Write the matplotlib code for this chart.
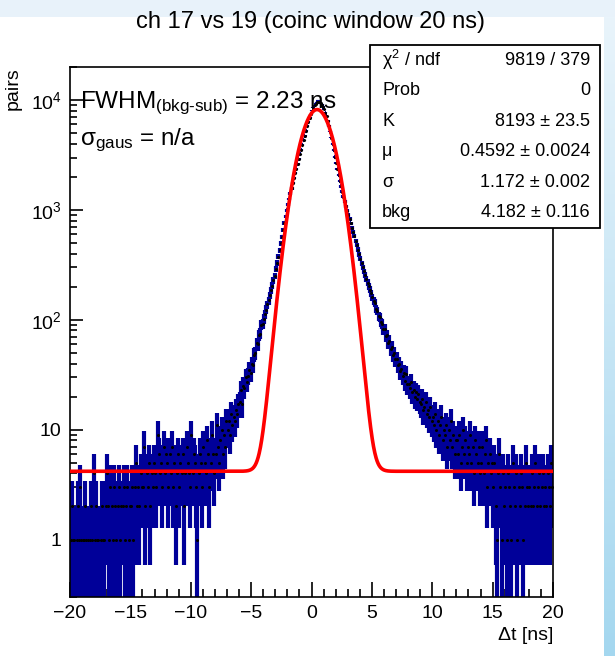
import numpy as np
import matplotlib
matplotlib.use('Agg')
import matplotlib.pyplot as plt
from matplotlib.patches import Rectangle
from matplotlib.colors import LinearSegmentedColormap
from matplotlib.ticker import FixedLocator, FixedFormatter, LogLocator, NullFormatter, MultipleLocator

plt.rcParams['font.family'] = ['Liberation Sans', 'DejaVu Sans']
plt.rcParams['mathtext.fontset'] = 'custom'
plt.rcParams['mathtext.rm'] = 'Liberation Sans'
plt.rcParams['mathtext.it'] = 'Liberation Sans:italic'
plt.rcParams['mathtext.bf'] = 'Liberation Sans:bold'

# Histograma: 400 bins de 0.1 ns entre -20 e 20 ns (contagens)
x_min, x_max = -20.0, 20.0
contagens = [
    1, 2, 1, 1, 0, 1, 2, 1, 3, 1,            # -20
    1, 1, 2, 1, 1, 0, 1, 2, 1, 4,            # -19
    1, 2, 1, 1, 0, 1, 2, 1, 1, 2,            # -18
    4, 2, 1, 3, 2, 1, 3, 2, 1, 2,            # -17
    3, 1, 2, 2, 3, 1, 2, 3, 1, 2,            # -16
    2, 3, 1, 3, 5, 2, 3, 2, 4, 3,            # -15
    3, 7, 2, 4, 3, 5, 2, 4, 3, 5,            # -14
    4, 3, 9, 6, 4, 5, 3, 7, 4, 6,            # -13
    5, 3, 6, 4, 7, 3, 5, 2, 4, 6,            # -12
    3, 5, 4, 6, 2, 4, 7, 5, 4, 3,            # -11
    9, 4, 6, 5, 3, 1, 4, 6, 5, 3,            # -10
    7, 5, 4, 8, 6, 3, 5, 9, 6, 4,            # -9
    6, 11, 7, 5, 8, 10, 6, 9, 7, 12,         # -8
    10, 12, 9, 14, 11, 13, 12, 15, 14, 17,   # -7
    18, 23, 17, 25, 24, 30, 27, 31, 35, 33,  # -6
    40, 39, 48, 50, 61, 60, 73, 75, 90, 92,  # -5
    102, 112, 124, 138, 150, 168, 186, 205, 228, 252,        # -4
    290, 330, 375, 430, 495, 570, 660, 760, 870, 990,        # -3
    1120, 1260, 1410, 1570, 1750, 1940, 2150, 2380, 2630, 2900,  # -2
    3200, 3530, 3900, 4300, 4750, 5250, 5800, 6350, 6900, 7450,  # -1
    8000, 8500, 8950, 9300, 9550, 9650, 9600, 9400, 9100, 8700,  # 0
    8250, 7700, 7100, 6450, 5800, 5150, 4550, 4000, 3500, 3050,  # 1
    2680, 2360, 2080, 1840, 1640, 1470, 1320, 1190, 1080, 985,   # 2
    900, 825, 755, 690, 630, 575, 525, 478, 435, 395,        # 3
    360, 328, 300, 276, 254, 236, 218, 202, 188, 174,        # 4
    160, 148, 142, 126, 121, 108, 106, 95, 92, 82,           # 5
    83, 71, 73, 62, 64, 54, 57, 48, 50, 44,  # 6
    44, 39, 40, 34, 36, 31, 33, 28, 32, 26,  # 7
    26, 24, 27, 22, 23, 20, 22, 19, 21, 18,  # 8
    17, 19, 15, 16, 18, 14, 15, 13, 16, 12,  # 9
    13, 11, 14, 10, 12, 9, 11, 13, 8, 10,    # 10
    9, 11, 7, 10, 8, 12, 7, 9, 6, 8,         # 11
    8, 6, 9, 5, 7, 10, 6, 8, 5, 7,           # 12
    6, 9, 5, 7, 4, 8, 6, 5, 7, 4,            # 13
    5, 7, 4, 6, 8, 3, 5, 6, 4, 5,            # 14
    3, 5, 2, 1, 4, 6, 3, 1, 4, 2,            # 15
    3, 1, 4, 3, 2, 1, 5, 3, 2, 4,            # 16
    1, 3, 2, 4, 3, 1, 2, 5, 3, 2,            # 17
    3, 2, 4, 2, 3, 5, 2, 3, 4, 2,            # 18
    3, 4, 2, 3, 2, 4, 3, 2, 5, 3,            # 19
]

# Parametros do ajuste (gaussiana + fundo)
K = 8193
mu = 0.4592
sigma = 1.172
bkg = 4.182

stat_nomes = ['χ$^{2}$ / ndf', 'Prob', 'K', 'μ', 'σ', 'bkg']
stat_valores = ['9819 / 379', '0', '8193 ± 23.5', '0.4592 ± 0.0024', '1.172 ± 0.002', '4.182 ± 0.116']

W, H = 615, 656
fig = plt.figure(figsize=(W / 100, H / 100), dpi=100)
fig.patch.set_facecolor('#e8f2fa')

def fx(px):
    return px / W

def fy(py):
    return 1 - py / H

# area branca do canvas
fig.add_artist(Rectangle((0, 0), fx(604), fy(17), transform=fig.transFigure,
                         facecolor='white', edgecolor='none', zorder=-5))
# faixa azul com gradiente a direita
ax_bg = fig.add_axes([fx(604), 0, 1 - fx(604), fy(17)], zorder=-4)
grad = np.linspace(0, 1, 256).reshape(-1, 1)
cmap_bg = LinearSegmentedColormap.from_list('bg', ['#e9f4fb', '#a4d7ef'])
ax_bg.imshow(grad, aspect='auto', cmap=cmap_bg, extent=[0, 1, 0, 1], origin='upper')
ax_bg.axis('off')

ax = fig.add_axes([fx(70), fy(597), fx(553) - fx(70), fy(67) - fy(597)])

n = len(contagens)
largura = (x_max - x_min) / n
centros = x_min + (np.arange(n) + 0.5) * largura
y = np.array(contagens, dtype=float)
m = y > 0
err = np.sqrt(y)
lo = np.where(y - err > 0, y - err, 1e-3)

azul = '#000099'
ax.vlines(centros[m], lo[m], (y + err)[m], color=azul, lw=3.0, zorder=2)
ax.hlines(y[m], centros[m] - largura / 2, centros[m] + largura / 2, color=azul, lw=3.0, zorder=2)
ax.plot(centros[m], y[m], 'k.', ms=2.4, zorder=3)

xf = np.linspace(x_min, x_max, 1500)
yf = K * np.exp(-0.5 * ((xf - mu) / sigma) ** 2) + bkg
ax.plot(xf, yf, color='#ff0000', lw=2.6, zorder=4)

ax.set_yscale('log')
ax.set_xlim(x_min, x_max)
ax.set_ylim(0.3, 2.0e4)

ax.xaxis.set_major_locator(MultipleLocator(5))
ax.xaxis.set_minor_locator(MultipleLocator(1))
ax.yaxis.set_major_locator(FixedLocator([1, 10, 100, 1000, 10000]))
ax.yaxis.set_major_formatter(FixedFormatter(['1', '10', '10$^{2}$', '10$^{3}$', '10$^{4}$']))
ax.yaxis.set_minor_locator(LogLocator(base=10, subs=np.arange(2, 10)))
ax.yaxis.set_minor_formatter(NullFormatter())

ax.tick_params(axis='x', which='major', direction='in', length=11, width=1.2, labelsize=14, pad=6)
ax.tick_params(axis='x', which='minor', direction='in', length=6, width=1.2)
ax.tick_params(axis='y', which='major', direction='in', length=9, width=1.2, labelsize=14, pad=6)
ax.tick_params(axis='y', which='minor', direction='in', length=5, width=1.2)
for s in ax.spines.values():
    s.set_linewidth(1.2)

fig.text(0.505, fy(22), 'ch 17 vs 19 (coinc window 20 ns)', ha='center', va='center', fontsize=17)
fig.text(fx(553), fy(636), 'Δt [ns]', ha='right', va='center', fontsize=14)
fig.text(fx(13), fy(67), 'pairs', ha='center', va='top', rotation=90, fontsize=14)

fig.text(fx(80), fy(103), 'FWHM$_{\\mathrm{(bkg\u2010sub)}}$ = 2.23 ns', ha='left', va='center', fontsize=17.5)
fig.text(fx(80), fy(140), 'σ$_{\\mathrm{gaus}}$ = n/a', ha='left', va='center', fontsize=17.5)

# caixa de estatisticas
bx0, by0, bx1, by1 = 370, 45, 600, 228
fig.add_artist(Rectangle((fx(bx0), fy(by1)), fx(bx1) - fx(bx0), fy(by0) - fy(by1),
                         transform=fig.transFigure, facecolor='white', edgecolor='black',
                         lw=1.3, zorder=5))
linha_h = (by1 - by0) / len(stat_nomes)
for i, (nome, val) in enumerate(zip(stat_nomes, stat_valores)):
    yc = by0 + linha_h * (i + 0.5)
    fig.text(fx(bx0 + 12), fy(yc), nome, ha='left', va='center', fontsize=13, zorder=6)
    fig.text(fx(bx1 - 10), fy(yc), val, ha='right', va='center', fontsize=13, zorder=6)

fig.savefig('out.png', dpi=100)
